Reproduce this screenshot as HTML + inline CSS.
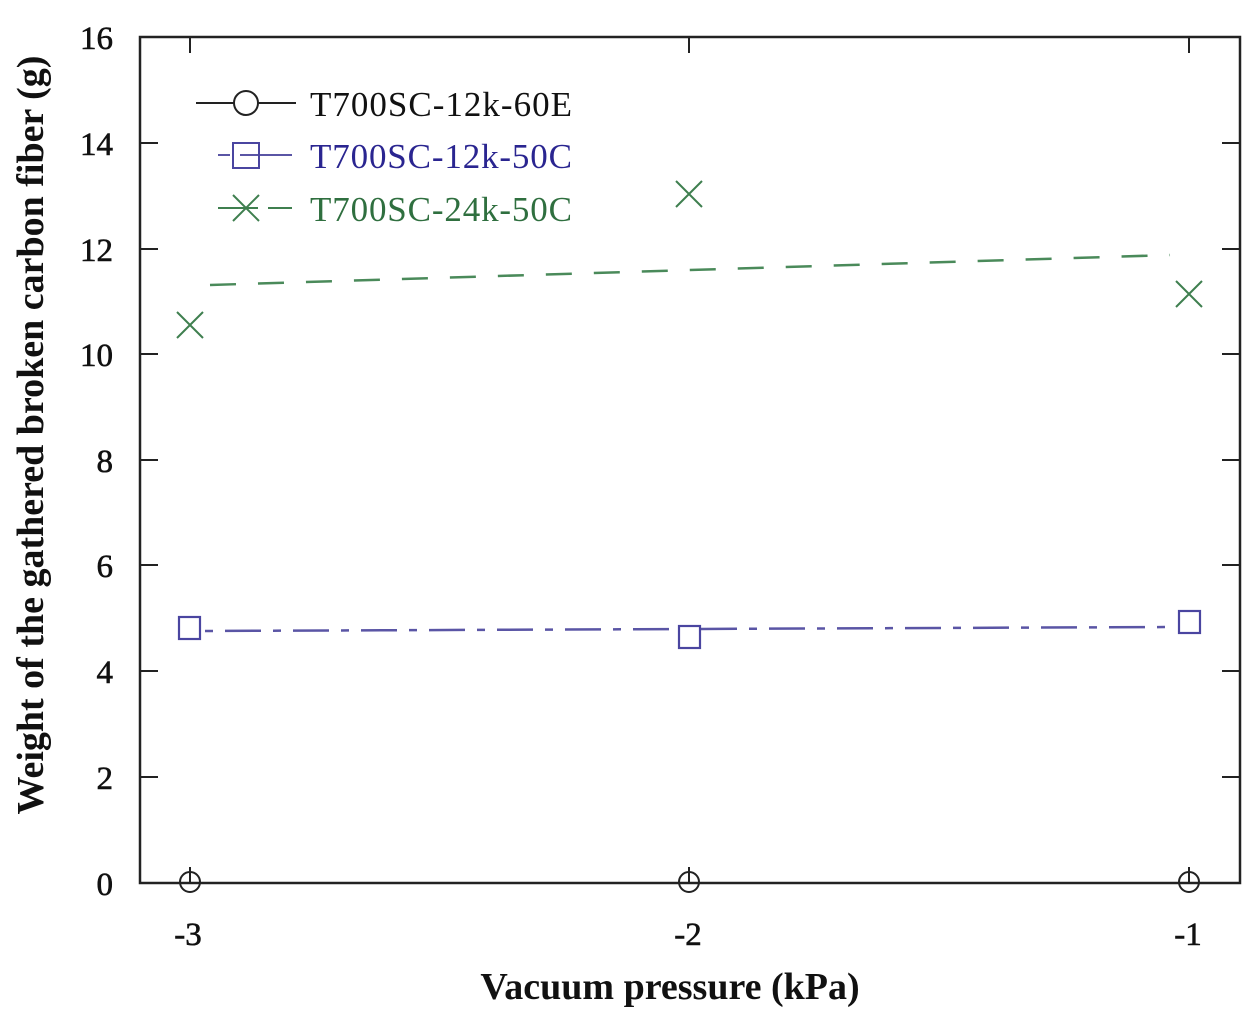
<!DOCTYPE html>
<html><head><meta charset="utf-8"><style>body{margin:0;background:#fff}</style></head><body>
<svg width="1260" height="1016" viewBox="0 0 1260 1016" xmlns="http://www.w3.org/2000/svg" font-family="Liberation Serif, serif">
<rect width="1260" height="1016" fill="#fff"/>
<rect x="140" y="37" width="1100" height="846" fill="none" stroke="#222" stroke-width="2.5"/>
<g stroke="#222" stroke-width="2">
<line x1="140" y1="777" x2="158" y2="777"/><line x1="140" y1="671" x2="158" y2="671"/><line x1="140" y1="565" x2="158" y2="565"/><line x1="140" y1="460" x2="158" y2="460"/><line x1="140" y1="354" x2="158" y2="354"/><line x1="140" y1="249" x2="158" y2="249"/><line x1="140" y1="143" x2="158" y2="143"/>
<line x1="1240" y1="777" x2="1222" y2="777"/><line x1="1240" y1="671" x2="1222" y2="671"/><line x1="1240" y1="565" x2="1222" y2="565"/><line x1="1240" y1="460" x2="1222" y2="460"/><line x1="1240" y1="354" x2="1222" y2="354"/><line x1="1240" y1="249" x2="1222" y2="249"/><line x1="1240" y1="143" x2="1222" y2="143"/>
<line x1="190" y1="37" x2="190" y2="53"/><line x1="689" y1="37" x2="689" y2="53"/><line x1="1189" y1="37" x2="1189" y2="53"/>
<line x1="190" y1="883" x2="190" y2="867"/><line x1="689" y1="883" x2="689" y2="867"/><line x1="1189" y1="883" x2="1189" y2="867"/>
</g>
<g font-size="33" fill="#111" stroke="#111" stroke-width="0.6" text-anchor="end">
<text x="113" y="895">0</text><text x="113" y="789">2</text><text x="113" y="683">4</text><text x="113" y="577">6</text><text x="113" y="472">8</text><text x="113" y="366">10</text><text x="113" y="261">12</text><text x="113" y="155">14</text><text x="113" y="49">16</text>
</g>
<g font-size="33" fill="#111" stroke="#111" stroke-width="0.6" text-anchor="middle">
<text x="188" y="945">-3</text><text x="688" y="945">-2</text><text x="1188" y="945">-1</text>
</g>
<text x="670" y="999" font-size="38" font-weight="bold" text-anchor="middle" fill="#111">Vacuum pressure (kPa)</text>
<text transform="translate(43,435) rotate(-90)" font-size="38" font-weight="bold" text-anchor="middle" fill="#111">Weight of the gathered broken carbon fiber (g)</text>
<polyline points="210,285 1170,255" fill="none" stroke="#4a8a5a" stroke-width="2.5" stroke-dasharray="26,22"/>
<g stroke="#3f7f4f" stroke-width="2">
<path d="M177,312 L203,338 M203,312 L177,338"/><path d="M676,181 L702,207 M702,181 L676,207"/><path d="M1176,281 L1202,307 M1202,281 L1176,307"/>
</g>
<polyline points="205,631 1175,627" fill="none" stroke="#5a55a5" stroke-width="2.5" stroke-dasharray="8,12,36,12"/>
<g fill="#fff" stroke="#4a45a0" stroke-width="2.2">
<rect x="179" y="617" width="21" height="22"/><rect x="679" y="626" width="21" height="22"/><rect x="1179" y="611" width="21" height="22"/>
</g>
<g fill="none" stroke="#222" stroke-width="2">
<circle cx="190" cy="882" r="10"/><circle cx="689" cy="882" r="10"/><circle cx="1189" cy="882" r="10"/>
</g>
<line x1="196" y1="103" x2="296" y2="103" stroke="#222" stroke-width="2"/><circle cx="246" cy="103" r="12" fill="#fff" stroke="#222" stroke-width="2"/>
<line x1="218" y1="155" x2="230" y2="155" stroke="#5a55a5" stroke-width="2"/><line x1="240" y1="155" x2="292" y2="155" stroke="#5a55a5" stroke-width="2"/><rect x="233" y="143" width="26" height="25" fill="none" stroke="#4a45a0" stroke-width="2"/>
<line x1="218" y1="208" x2="258" y2="208" stroke="#3f7f4f" stroke-width="2"/><line x1="268" y1="208" x2="292" y2="208" stroke="#3f7f4f" stroke-width="2"/>
<path d="M233,195 L259,221 M259,195 L233,221" stroke="#3f7f4f" stroke-width="2"/>
<g font-size="35">
<text x="310" y="116" fill="#111" textLength="262">T700SC-12k-60E</text>
<text x="310" y="168" fill="#2a2590" textLength="262">T700SC-12k-50C</text>
<text x="310" y="221" fill="#2f6f3f" textLength="262">T700SC-24k-50C</text>
</g>
</svg>
</body></html>
